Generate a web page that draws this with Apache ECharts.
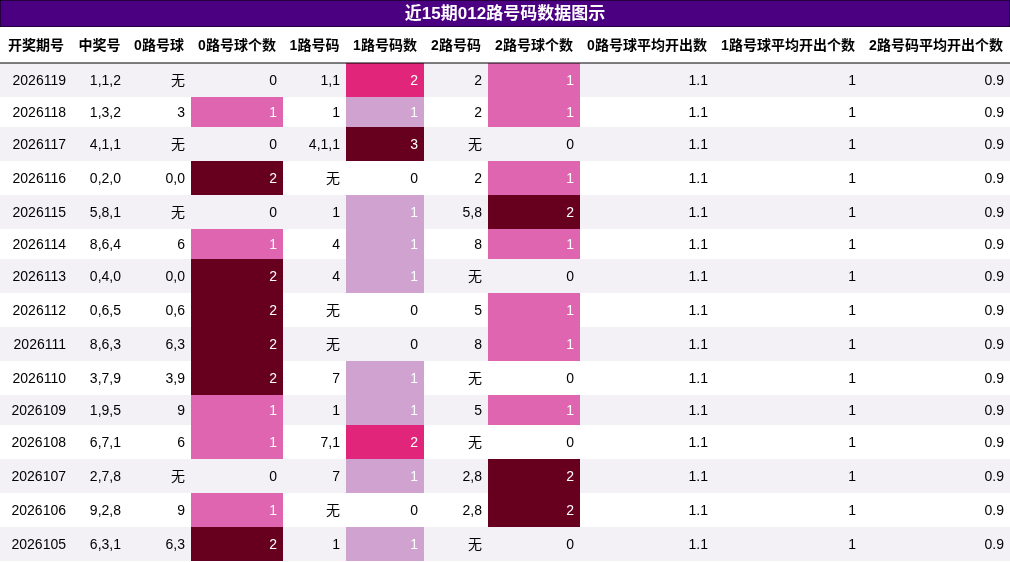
<!DOCTYPE html>
<html><head><meta charset="utf-8">
<script src="https://cdn.jsdelivr.net/npm/echarts@6/dist/echarts.min.js"></script>
<style>html,body{margin:0;padding:0;background:#fff}#main{width:1010px;height:562px}</style>
</head><body><div id="main"></div>
<script>
var chartDom = document.getElementById('main');
var myChart = echarts.init(chartDom);

var titleText = '近15期012路号码数据图示';
var headers = ['开奖期号', '中奖号', '0路号球', '0路号球个数', '1路号码', '1路号码数', '2路号码', '2路号球个数', '0路号球平均开出数', '1路号球平均开出个数', '2路号码平均开出个数'];
var periods = ['2026119', '2026118', '2026117', '2026116', '2026115', '2026114', '2026113', '2026112', '2026111', '2026110', '2026109', '2026108', '2026107', '2026106', '2026105'];
var winNums = ['1,1,2', '1,3,2', '4,1,1', '0,2,0', '5,8,1', '8,6,4', '0,4,0', '0,6,5', '8,6,3', '3,7,9', '1,9,5', '6,7,1', '2,7,8', '9,2,8', '6,3,1'];
var road0 = ['无', '3', '无', '0,0', '无', '6', '0,0', '0,6', '6,3', '3,9', '9', '6', '无', '9', '6,3'];
var road0Cnt = [0, 1, 0, 2, 0, 1, 2, 2, 2, 2, 1, 1, 0, 1, 2];
var road1 = ['1,1', '1', '4,1,1', '无', '1', '4', '4', '无', '无', '7', '1', '7,1', '7', '无', '1'];
var road1Cnt = [2, 1, 3, 0, 1, 1, 1, 0, 0, 1, 1, 2, 1, 0, 1];
var road2 = ['2', '2', '无', '2', '5,8', '8', '无', '5', '8', '无', '5', '无', '2,8', '2,8', '无'];
var road2Cnt = [1, 1, 0, 1, 2, 1, 0, 1, 1, 0, 1, 0, 2, 2, 0];
var avg0 = '1.1', avg1 = '1', avg2 = '0.9';

// layout
var colEdges = [0, 72, 127, 191, 283, 346, 424, 488, 580, 714, 862, 1010];
var rowHeights = [34, 30, 34, 34, 34, 30, 34, 34, 34, 34, 30, 34, 34, 34, 34];
var titleH = 27, headerBottom = 63;
var cntColors = {1: '#df65b0', 2: '#67001f', 3: '#67001f'};
var road1Colors = {1: '#cfa2d0', 2: '#e0257b', 3: '#67001f'};

var rowTops = [];
var y = headerBottom;
rowHeights.forEach(function (h) { rowTops.push(y); y += h; });

var cells = [];
// title
cells.push({x0: 0, x1: 1010, y0: 0, y1: titleH, text: titleText, fill: '#4b0082', color: '#fff', align: 'center', bold: true, size: 17, stroke: '#000'});
headers.forEach(function (t, c) {
  cells.push({x0: colEdges[c], x1: colEdges[c + 1], y0: titleH, y1: headerBottom, text: t, fill: '#fff', color: '#000', align: 'center', bold: true, size: 14});
});
periods.forEach(function (p, r) {
  var bg = r % 2 === 0 ? '#f3f1f6' : '#ffffff';
  var vals = [p, winNums[r], road0[r], road0Cnt[r], road1[r], road1Cnt[r], road2[r], road2Cnt[r], avg0, avg1, avg2];
  vals.forEach(function (v, c) {
    var fill = bg, color = '#000';
    if (c === 3 || c === 7) { if (cntColors[v]) { fill = cntColors[v]; color = '#fff'; } }
    if (c === 5) { if (road1Colors[v]) { fill = road1Colors[v]; color = '#fff'; } }
    cells.push({x0: colEdges[c], x1: colEdges[c + 1], y0: rowTops[r], y1: rowTops[r] + rowHeights[r], text: String(v), fill: fill, color: color, align: 'right', bold: false, size: 14});
  });
});

var option = {
  animation: false,
  grid: {left: 0, right: 0, top: 0, bottom: 0},
  xAxis: {type: 'value', min: 0, max: 1010, show: false},
  yAxis: {type: 'value', min: 0, max: 562, inverse: true, show: false},
  series: [{
    type: 'custom',
    data: cells.map(function (d, i) { return [d.x0, d.y0, d.x1, d.y1, i]; }),
    renderItem: function (params, api) {
      var d = cells[api.value(4)];
      var p0 = api.coord([api.value(0), api.value(1)]);
      var p1 = api.coord([api.value(2), api.value(3)]);
      var tx = d.align === 'center' ? (p0[0] + p1[0]) / 2 : p1[0] - 6;
      return {
        type: 'group',
        children: [
          {type: 'rect', shape: {x: p0[0], y: p0[1], width: p1[0] - p0[0], height: p1[1] - p0[1]},
            style: {fill: d.fill, stroke: d.stroke || null, lineWidth: 1}},
          {type: 'text', style: {x: tx, y: (p0[1] + p1[1]) / 2 + 1, text: d.text, fill: d.color,
            align: d.align, verticalAlign: 'middle',
            font: (d.bold ? 'bold ' : '') + d.size + 'px "Liberation Sans", "Noto Sans CJK SC", sans-serif'}}
        ]
      };
    }
  }, {
    type: 'custom',
    data: [[0, headerBottom, 1010]],
    renderItem: function (params, api) {
      var a = api.coord([api.value(0), api.value(1)]);
      var b = api.coord([api.value(2), api.value(1)]);
      return {type: 'line', shape: {x1: a[0], y1: a[1], x2: b[0], y2: b[1]}, style: {stroke: '#000', lineWidth: 1}};
    }
  }]
};
myChart.setOption(option);
</script></body></html>
